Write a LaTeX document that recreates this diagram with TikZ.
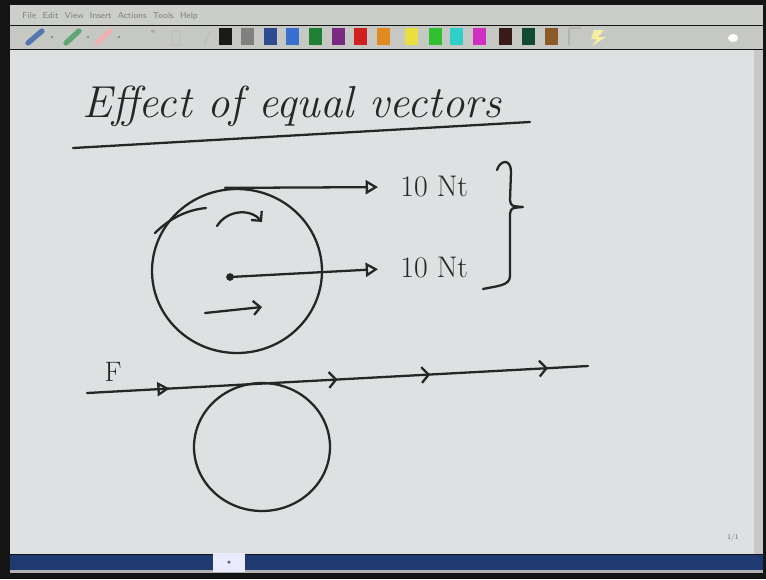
\documentclass[tikz,border=0pt]{standalone}
\usepackage{xcolor}
\usepackage{tikz}
\usetikzlibrary{arrows.meta, positioning, shapes.geometric, decorations.markings}
\definecolor{inkgray}{RGB}{38,38,38}
\definecolor{pagegray}{RGB}{222,225,226}
\definecolor{barblue}{RGB}{30,58,112}
\definecolor{chromegray}{RGB}{198,200,196}
\definecolor{swdarkblue}{RGB}{47,75,143}
\definecolor{swblue}{RGB}{58,111,208}
\definecolor{swgreen}{RGB}{30,127,53}
\definecolor{swpurple}{RGB}{122,42,128}
\definecolor{swred}{RGB}{208,32,32}
\definecolor{sworange}{RGB}{224,138,32}
\definecolor{swyellow}{RGB}{232,224,64}
\definecolor{swlime}{RGB}{48,192,48}
\definecolor{swcyan}{RGB}{48,208,200}
\definecolor{swmagenta}{RGB}{208,48,192}
\definecolor{swbrown}{RGB}{58,26,24}
\definecolor{swpine}{RGB}{18,74,48}
\definecolor{swtan}{RGB}{138,90,40}

\begin{document}
\begin{tikzpicture}[x=0.02cm, y=-0.02cm,
    ink/.style={draw=inkgray, line width=1.3pt, line cap=round, line join=round},
    vec/.style={ink, -{Triangle[open, length=7pt, width=8pt]}},
    barb/.style={ink, -{Straight Barb[length=4pt, width=8pt]}},
    wheel/.style={ink, ellipse, inner sep=0pt},
    hand/.style={text=inkgray, inner sep=0pt}
]
\useasboundingbox (0,0) rectangle (766,579);
\fill[black!92] (0,0) rectangle (766,579);
\fill[chromegray!90!white] (10,5) rectangle (763,25);
\fill[chromegray] (10,26) rectangle (763,49);
\fill[pagegray] (10,50) rectangle (754,554);
\fill[black!22] (754,50) rectangle (763,554);
\fill[barblue] (10,555) rectangle (763,570);
\fill[gray!60] (10,570) rectangle (763,573);
\fill[white!92!blue] (213,553) rectangle (245,572);
\fill[black!60] (229,562) circle[radius=1pt];

\node[font=\fontsize{5}{6}\selectfont\sffamily, text=black!50, anchor=west, inner sep=0pt] (menu) at (22,16) {File\ \ Edit\ \ View\ \ Insert\ \ Actions\ \ Tools\ \ Help};

\draw[line width=3pt, line cap=round, swblue!60!gray] (28,43) -- (42,31);
\draw[line width=3pt, line cap=round, swgreen!70!white] (66,43) -- (79,31);
\draw[line width=3pt, line cap=round, swred!35!white] (97,43) -- (110,31);
\foreach \xx in {52,88,119}
  \fill[black!45] (\xx,37) circle[radius=0.8pt];
\node[font=\tiny, text=black!45] (star) at (153,33) {*};
\draw[black!25, line width=0.8pt] (172,31) rectangle (180,45) (204,45) -- (210,31);

\foreach \xx/\cc in {219/black!90, 241/gray, 264/swdarkblue, 286/swblue, 309/swgreen, 332/swpurple, 354/swred, 377/sworange, 405/swyellow, 429/swlime, 450/swcyan, 473/swmagenta, 499/swbrown, 522/swpine, 545/swtan}
  \fill[\cc] (\xx,28) rectangle ++(13,17);
\draw[black!30, line width=0.6pt] (569,28) -- (569,45) (569,28) -- (581,28);
\fill[swyellow!50!white] (594,30) -- (604,30) -- (598,37) -- (606,37) -- (592,46) -- (597,39) -- (591,39) -- cycle;
\fill[white] (733,38) ellipse[x radius=5, y radius=4];

\node[hand, anchor=base west, font=\fontsize{25.5}{30}\selectfont\itshape] (title) at (82,117) {Effect of equal vectors};
\draw[ink] (73,148) -- (530,122);

\node[wheel, minimum width=3.4cm, minimum height=3.28cm] (upper) at (237,271) {};
\coordinate (hub) at (230,277);
\fill[inkgray] (hub) circle[radius=2.2pt];
\node[hand, anchor=west, font=\fontsize{17}{20}\selectfont] (ntop) at (400,187) {10 Nt};
\node[hand, anchor=west, font=\fontsize{17}{20}\selectfont] (nmid) at (400,268) {10 Nt};
\draw[vec, shorten >=0.44cm] ([xshift=-0.24cm]upper.north) -- (ntop.west);
\draw[vec, shorten >=0.44cm] (hub) -- (nmid.west);

\draw[ink] (155,233) .. controls (168,220) and (185,210) .. (206,208);
\draw[barb] (217,226) .. controls (227,210) and (250,208) .. (262,222);
\draw[barb] (205,313) -- (262,307);

\draw[ink] (497,170) .. controls (500,160) and (511,158) .. (511,172) -- (510,200)
  .. controls (511,206) .. (523,207) .. controls (511,208) .. (510,214) -- (510,276)
  .. controls (510,286) and (496,286) .. (483,289);

\node[hand, font=\fontsize{16}{18}\selectfont] (flabel) at (113,372) {F};
\coordinate (fstart) at (87,393);
\coordinate (fend) at (588,366);
\draw[ink, postaction={decorate}, decoration={markings,
    mark=at position 0.165 with {\arrow{Triangle[open, length=7pt, width=8pt]}},
    mark=at position 0.5 with {\arrow{Straight Barb[length=4pt, width=9pt]}},
    mark=at position 0.685 with {\arrow{Straight Barb[length=4pt, width=9pt]}},
    mark=at position 0.92 with {\arrow{Straight Barb[length=4pt, width=9pt]}}}]
  (fstart) -- (fend);
\node[wheel, minimum width=2.72cm, minimum height=2.56cm] (lower) at (262,447) {};

\node[font=\fontsize{4}{5}\selectfont\sffamily, text=black!55] (pageno) at (733,538) {1/1};
\end{tikzpicture}
\end{document}
